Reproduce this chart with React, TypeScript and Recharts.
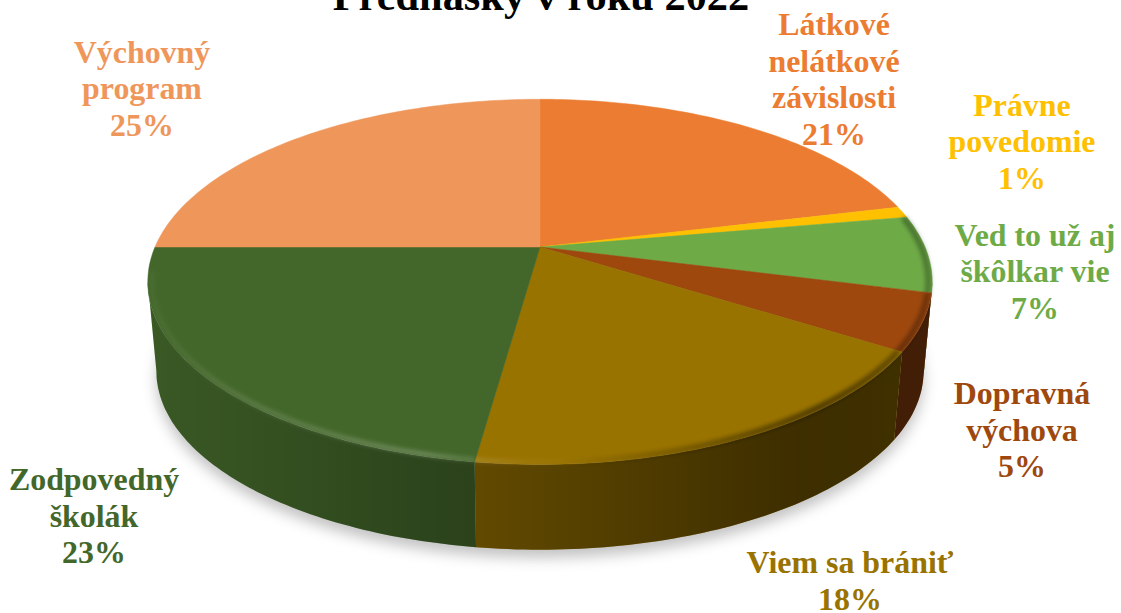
import { Pie, PieChart } from "recharts";

const categories = [
  "Látkové nelátkové závislosti",
  "Právne povedomie",
  "Ved to už aj škôlkar vie",
  "Dopravná výchova",
  "Viem sa brániť",
  "Zodpovedný školák",
  "Výchovný program",
];
const values = [21.2, 1, 6.8, 5, 18.2, 22.8, 25];
const colors = ["#EB7C31", "#FFC000", "#6EAB47", "#9E480E", "#997300", "#43672A", "#EF965A"];
const labelLines = [
  ["Látkové", "nelátkové", "závislosti"],
  ["Právne", "povedomie"],
  ["Ved to už aj", "škôlkar vie"],
  ["Dopravná", "výchova"],
  ["Viem sa brániť"],
  ["Zodpovedný", "školák"],
  ["Výchovný", "program"],
];
const labelAnchors = [
  [834, 35],
  [1022, 115.5],
  [1035, 245.5],
  [1022, 404],
  [850, 573],
  [94, 490],
  [142, 62.5],
];

const data = categories.map((name, i) => ({ name, value: values[i], fill: colors[i] }));

// perspective of the tilted disc
const TILT = 0.457;
const SKEW = 0.191;
const DEPTH = 90;
const BOTTOM_SCALE = 0.978;
// part of the rim that faces the viewer, degrees clockwise from 12 o'clock
const WALL_FROM = 101;
const WALL_TO = 259;
const BEVEL_FROM = 80;
const BEVEL_TO = 262;

type Pt = [number, number];

function project(cx: number, cy: number, r: number, deg: number): Pt {
  const a = (deg * Math.PI) / 180;
  const u = Math.sin(a);
  const v = Math.cos(a);
  const w = 1 + SKEW * v;
  return [cx + (r * u) / w, cy - (r * TILT * v) / w];
}

function arc(cx: number, cy: number, r: number, from: number, to: number): Pt[] {
  const pts: Pt[] = [];
  const n = Math.max(2, Math.ceil(to - from));
  for (let i = 0; i <= n; i++) pts.push(project(cx, cy, r, from + ((to - from) * i) / n));
  return pts;
}

const toPath = (pts: Pt[]) =>
  "M" + pts.map((p) => `${p[0].toFixed(1)} ${p[1].toFixed(1)}`).join("L");

function Slice(props: any) {
  const { cx, cy, outerRadius: r, startAngle, endAngle, fill, index } = props;
  const from = 90 - startAngle;
  const to = 90 - endAngle;

  const top = toPath([[cx, cy], ...arc(cx, cy, r, from, to)]) + "Z";

  const wFrom = Math.max(from, WALL_FROM);
  const wTo = Math.min(to, WALL_TO);
  let wall = "";
  if (wTo > wFrom) {
    const upper = arc(cx, cy, r, wFrom, wTo);
    const lower = arc(cx, cy + DEPTH, r * BOTTOM_SCALE, wFrom, wTo).reverse();
    wall = toPath([...upper, ...lower]) + "Z";
  }

  const bFrom = Math.max(from, BEVEL_FROM);
  const bTo = Math.min(to, BEVEL_TO);
  const bevel = bTo > bFrom ? toPath(arc(cx, cy, r * 0.99, bFrom, bTo)) : "";

  return (
    <g>
      {index === 0 && (
        <>
          <defs>
            <linearGradient id="wallShade" gradientUnits="userSpaceOnUse" x1="150" x2="930" y1="0" y2="0">
              <stop offset="0" stopColor="#000" stopOpacity={0.14} />
              <stop offset="0.41" stopColor="#000" stopOpacity={0.36} />
              <stop offset="0.83" stopColor="#000" stopOpacity={0.6} />
              <stop offset="1" stopColor="#000" stopOpacity={0.58} />
            </linearGradient>
            <linearGradient id="bevelLight" gradientUnits="userSpaceOnUse" x1="150" x2="700" y1="0" y2="0">
              <stop offset="0" stopColor="#fff" stopOpacity={0.04} />
              <stop offset="0.15" stopColor="#fff" stopOpacity={0.14} />
              <stop offset="0.5" stopColor="#fff" stopOpacity={0.26} />
              <stop offset="0.68" stopColor="#fff" stopOpacity={0.06} />
              <stop offset="0.8" stopColor="#fff" stopOpacity={0} />
            </linearGradient>
            <linearGradient id="bevelDark" gradientUnits="userSpaceOnUse" x1="560" x2="930" y1="0" y2="0">
              <stop offset="0" stopColor="#000" stopOpacity={0} />
              <stop offset="0.7" stopColor="#000" stopOpacity={0.5} />
              <stop offset="1" stopColor="#000" stopOpacity={0.3} />
            </linearGradient>
            <filter id="soft" filterUnits="userSpaceOnUse" x="0" y="0" width="1121" height="613">
              <feGaussianBlur stdDeviation="2" />
            </filter>
            <filter id="shadowBlur" filterUnits="userSpaceOnUse" x="0" y="0" width="1121" height="613">
              <feGaussianBlur stdDeviation="7" />
            </filter>
          </defs>
          <path
            d={toPath(arc(cx, cy + DEPTH + 8, r * BOTTOM_SCALE, 0, 360)) + "Z"}
            fill="#000"
            fillOpacity={0.24}
            filter="url(#shadowBlur)"
          />
        </>
      )}
      {wall && <path d={wall} fill={fill} />}
      {wall && <path d={wall} fill="url(#wallShade)" />}
      <path d={top} fill={fill} stroke={fill} strokeWidth={0.5} />
      {bevel && (
        <>
          <path d={bevel} fill="none" stroke="url(#bevelDark)" strokeWidth={6} filter="url(#soft)" />
          <path d={bevel} fill="none" stroke="url(#bevelLight)" strokeWidth={4} filter="url(#soft)" />
        </>
      )}
    </g>
  );
}

function SliceLabel(props: any) {
  const { index, value, fill } = props;
  const [x, y] = labelAnchors[index];
  return (
    <text
      x={x}
      y={y}
      textAnchor="middle"
      fill={fill}
      fontFamily="'Liberation Serif'"
      fontWeight="bold"
      fontSize={31.9}
    >
      {[...labelLines[index], `${Math.round(value)}%`].map((line, i) => (
        <tspan key={i} x={x} dy={i === 0 ? 0 : 36.6}>
          {line}
        </tspan>
      ))}
    </text>
  );
}

export default function App() {
  return (
    <div style={{ position: "absolute", left: 0, top: 0, width: 1121, height: 613, background: "#fff" }}>
      <PieChart width={1121} height={613} margin={{ top: 0, right: 0, bottom: 0, left: 0 }}>
        <text
          x={541}
          y={10}
          textAnchor="middle"
          fill="#000"
          fontFamily="'Liberation Serif'"
          fontWeight="bold"
          fontSize={42.4}
        >
          Prednášky v roku 2022
        </text>
        <Pie
          data={data}
          dataKey="value"
          nameKey="name"
          cx={540}
          cy={247}
          outerRadius={385}
          startAngle={90}
          endAngle={-270}
          paddingAngle={0}
          stroke="none"
          shape={Slice}
          label={SliceLabel}
          labelLine={false}
          isAnimationActive={false}
        />
      </PieChart>
    </div>
  );
}
